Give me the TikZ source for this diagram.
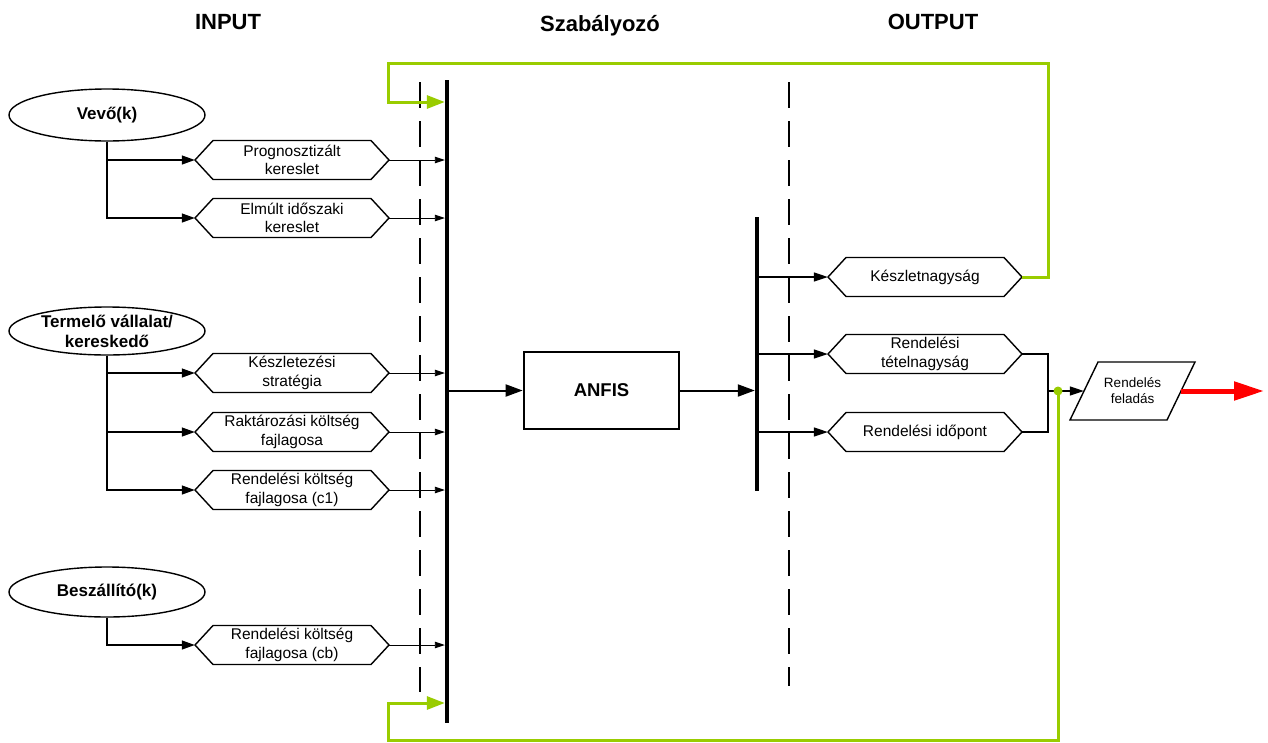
\documentclass[tikz,border=0pt]{standalone}
\usepackage{fontspec}
\setmainfont{Liberation Sans}
\usetikzlibrary{arrows.meta,shapes.geometric}
\definecolor{lgreen}{RGB}{153,204,0}
\definecolor{rred}{RGB}{255,0,0}
\newcommand\hexnode[5]{% name, cx, cy, halfwidth, text
  \node[hexlbl, minimum width=2*#4] (#1) at (#2,#3) {#5};
  \draw[hexline] (#2-#4,#3) -- (#2-#4+18,#3-19.5) -- (#2+#4-18,#3-19.5) -- (#2+#4,#3)
     -- (#2+#4-18,#3+19.5) -- (#2-#4+18,#3+19.5) -- cycle;
}
\begin{document}
\begin{tikzpicture}[x=1pt,y=-1pt,
  hexlbl/.style={inner sep=0pt, minimum height=39, align=center,
     font=\fontsize{15.5}{18.5}\selectfont},
  hexline/.style={draw=black, line width=1.4},
  ell/.style={draw, ellipse, line width=1.4, minimum width=196, minimum height=52,
     inner sep=0pt, align=center, font=\fontsize{17}{20}\selectfont\bfseries},
  elltxt/.style={align=center, font=\fontsize{17}{20}\selectfont\bfseries},
  conn/.style={line width=1.3, -{Triangle[length=13,width=9]}},
  thinconn/.style={line width=0.9, -{Triangle[length=10,width=6.5]}},
  midconn/.style={line width=1.3, -{Triangle[length=14,width=9]}},
  bigconn/.style={line width=2, -{Triangle[length=17,width=12]}},
  bus/.style={fill=black, inner sep=0pt, minimum width=4},
  gline/.style={draw=lgreen, line width=3},
  garrow/.style={draw=lgreen, line width=3, -{Triangle[length=18,width=13,fill=lgreen]}},
  sep/.style={line width=1.4, dash pattern=on 26 off 13},
  title/.style={font=\fontsize{22}{26}\selectfont\bfseries}
]
\useasboundingbox (0,0) rectangle (1268,742);

% titles
\node[title] (tin) at (228,22) {INPUT};
\node[title] (tsz) at (600,26) {Szabályozó};
\node[title] (tout) at (933,22) {OUTPUT};

% dashed separators
\draw[sep] (420,82) -- (420,692);
\draw[sep] (789,82) -- (789,686);

% buses
\node[bus, minimum height=643] (bus1) at (447,401.5) {};
\node[bus, minimum height=274] (bus2) at (757,354) {};

% ellipses
\node[ell] (vevo) at (107,115) {Vevő(k)};
\node[ell, minimum height=48, label={[elltxt]center:Termelő vállalat/\\kereskedő}] (term) at (107,331) {};
\node[ell, minimum height=50] (besz) at (107,592) {Beszállító(k)};

% input hexagons
\hexnode{p1}{292}{160}{97}{Prognosztizált\\kereslet}
\hexnode{p2}{292}{218}{97}{Elmúlt időszaki\\kereslet}
\hexnode{p3}{292}{373}{97}{Készletezési\\stratégia}
\hexnode{p4}{292}{432}{97}{Raktározási költség\\fajlagosa}
\hexnode{p5}{292}{490}{97}{Rendelési költség\\fajlagosa (c1)}
\hexnode{p6}{292}{645}{97}{Rendelési költség\\fajlagosa (cb)}

% output hexagons
\hexnode{o1}{925}{277}{97}{Készletnagyság}
\hexnode{o2}{925}{354}{97}{Rendelési\\tételnagyság}
\hexnode{o3}{925}{432}{97}{Rendelési időpont}

% ANFIS
\node[draw, line width=2.7, minimum width=155, minimum height=77, inner sep=0pt,
  font=\fontsize{18.5}{22}\selectfont\bfseries] (anfis) at (601.5,390.5) {ANFIS};

% order node (parallelogram)
\node[inner sep=0pt, minimum width=97, minimum height=58, align=center,
  font=\fontsize{13.5}{16}\selectfont] (rf) at (1132.5,391) {Rendelés\\feladás};
\draw[line width=1.4] (1098,362) -- (1195,362) -- (1167,420) -- (1070,420) -- cycle;

% input connectors
\draw[conn] (vevo.south) |- (p1.west);
\draw[conn] (vevo.south) |- (p2.west);
\draw[conn] (term.south) |- (p3.west);
\draw[conn] (term.south) |- (p4.west);
\draw[conn] (term.south) |- (p5.west);
\draw[conn] (besz.south) |- (p6.west);
\foreach \p in {p1,p2,p3,p4,p5,p6}
  \draw[thinconn] (\p.east) -- (\p.east -| bus1.west);

% controller
\draw[bigconn] (bus1.east |- anfis.west) -- (anfis.west);
\draw[bigconn] (anfis.east) -- (anfis.east -| bus2.west);
\foreach \o in {o1,o2,o3}
  \draw[midconn] (bus2.east |- \o.west) -- (\o.west);

% merge
\coordinate (mj) at (1048,391);
\draw[line width=1.3] (o2.east) -| (mj);
\draw[line width=1.3] (o3.east) -| (mj);
\draw[midconn] (mj) -- (rf.west);

% red output arrow
\coordinate (redend) at (1264,391);
\draw[draw=rred, line width=5, -{Triangle[length=30,width=18,fill=rred]}] (rf.east) -- (redend);

% green feedback loops
\coordinate (g1) at (1048,63);
\coordinate (g2) at (388,63);
\coordinate (g3) at (388,102);
\draw[garrow] (o1.east) -| (g1) -- (g2) -- (g3) -- (g3 -| bus1.west);

\node[circle, fill=lgreen, inner sep=0pt, minimum size=9] (gd) at (1058,391) {};
\coordinate (g4) at (1058,740);
\coordinate (g5) at (388,740);
\coordinate (g6) at (388,703);
\draw[garrow] (gd.center) -- (g4) -- (g5) -- (g6) -- (g6 -| bus1.west);
\end{tikzpicture}
\end{document}
